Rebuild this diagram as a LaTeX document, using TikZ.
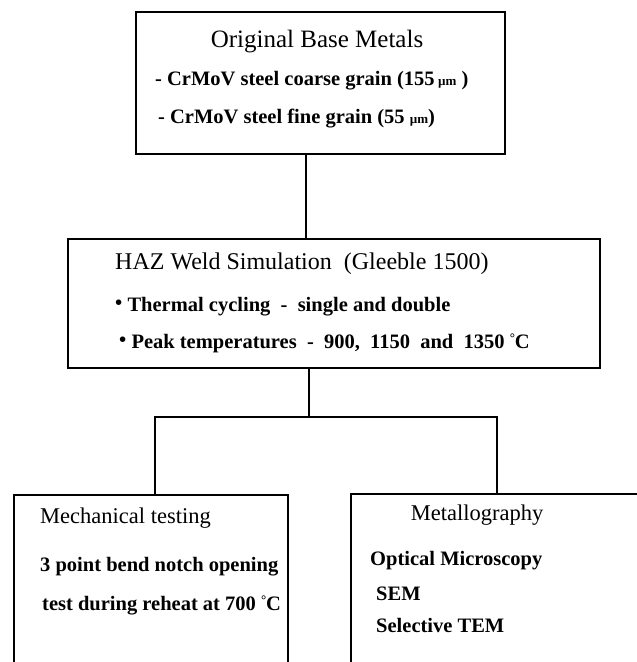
\documentclass[tikz,border=0pt]{standalone}
\usepackage{fontspec}
\setmainfont{Liberation Serif}
\usepackage{tikz}
\usetikzlibrary{positioning}
\newcommand{\petit}[1]{{\fontsize{13}{13}\selectfont #1}}
\newcommand{\puce}{\raisebox{0.2ex}{•}}
\newcommand{\degre}{\raisebox{0.55ex}{\petit{°}}}

\begin{document}
\begin{tikzpicture}[x=1pt, y=-1pt,
  boite/.style 2 args={rectangle, draw, line width=1.6pt, minimum width=#1,
                       minimum height=#2, inner sep=0pt, anchor=north west},
  titre/.style={anchor=base west, inner sep=0pt, font=\fontsize{22.5}{26}\selectfont},
  ligne/.style={anchor=base west, inner sep=0pt, font=\fontsize{20.5}{24}\selectfont\bfseries},
  trait/.style={line width=1.4pt}]
\useasboundingbox (0,0) rectangle (637,662);
\clip (0,0) rectangle (637,662);
% boites
\node[boite={369pt}{142pt}] (haut) at (135,11) {};
\node[boite={532pt}{129pt}] (milieu) at (67,238) {};
\node[boite={274pt}{200pt}] (gauche) at (13,494) {};
\node[boite={320pt}{200pt}] (droite) at (350,493) {};
% textes
\node[titre, anchor=base, font=\fontsize{25}{28}\selectfont] (t1) at (317,47) {Original Base Metals};
\node[ligne] (t2) at (155,85) {- CrMoV steel coarse grain (155\,\petit{µm} )};
\node[ligne] (t3) at (158,123) {- CrMoV steel fine grain (55 \petit{µm})};
\node[titre, font=\fontsize{24}{28}\selectfont] (t4) at (115,269) {HAZ Weld Simulation \ (Gleeble 1500)};
\node[ligne] (t5) at (115,311) {\puce\ Thermal cycling \ - \ single and double};
\node[ligne] (t6) at (119,348) {\puce\ Peak temperatures \ - \ 900, \ 1150 \ and \ 1350 \degre C};
\node[titre] (t7) at (40,523) {Mechanical testing};
\node[ligne] (t8) at (40,571) {3 point bend notch opening};
\node[ligne] (t9) at (42,610) {test during reheat at 700 \degre C};
\node[titre, anchor=base] (t10) at (477,520) {Metallography};
\node[ligne] (t11) at (370,565) {Optical Microscopy};
\node[ligne] (t12) at (376,600) {SEM};
\node[ligne] (t13) at (376,632) {Selective TEM};
% liaisons
\coordinate (j1) at (306,0);
\coordinate (bus) at (309,417);
\coordinate (busg) at (155,417);
\coordinate (busd) at (497,417);
\draw[trait] (haut.south -| j1) -- (milieu.north -| j1);
\draw[trait] (milieu.south -| bus) -- (bus);
\draw[trait] (gauche.north -| busg) -- (busg) -- (busd) -- (droite.north -| busd);
\end{tikzpicture}
\end{document}
